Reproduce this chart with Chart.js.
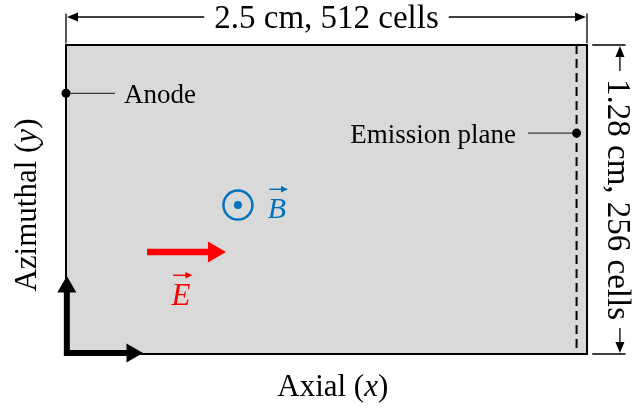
<!DOCTYPE html>
<html>
<head>
<meta charset="utf-8">
<script src="https://cdn.jsdelivr.net/npm/chart.js@4/dist/chart.umd.min.js"></script>
<style>
  html, body { margin: 0; padding: 0; background: #ffffff; }
  #wrap { width: 634px; height: 412px; }
</style>
</head>
<body>
<div id="wrap"><canvas id="c" width="634" height="412"></canvas></div>
<script>
// ---- data (simulation domain, in cm) ----
const axialExtentCm = [0, 2.5];
const azimuthalExtentCm = [0, 1.28];
const cellCounts = [512, 256];
const emissionPlaneX = [2.45];
const markerLabels = ['Anode', 'Emission plane'];
const markerY = [1.08, 0.915];
const dimensionLabels = ['2.5 cm, 512 cells', '1.28 cm, 256 cells'];
const axisTitles = ['Axial', 'Azimuthal'];
const axisSymbols = ['x', 'y'];
const fieldSymbols = ['E', 'B'];

const X0 = axialExtentCm[0], X1 = axialExtentCm[1];
const Y0 = azimuthalExtentCm[0], Y1 = azimuthalExtentCm[1];

const SERIF = '"Liberation Serif", "DejaVu Serif", serif';
const RED = '#ff0000';
const BLUE = '#0072bd';

// annotation placement (data units)
const place = {
  topDimY: 1.396, topExtTop: 1.41, extNear: 1.287,
  rightDimX: 2.658, rightExtFrom: 2.525, rightExtTo: 2.685,
  anodeLeaderEnd: 0.235, anodeText: 0.278,
  emisLeaderStart: 2.217, emisText: 2.159,
  eShaft: [0.389, 0.71], eY: 0.4225, eLabel: [0.552, 0.203],
  bCenter: [0.825, 0.617], bLabel: [1.0125, 0.563],
  corner: [0.004, 0.004], vTip: 0.2775, hTip: 0.3167,
  axialLabel: [1.28, -0.174], azimLabel: [-0.144, 0.617]
};

function arrowHead(ctx, x, y, ang, len, half) {
  ctx.save();
  ctx.translate(x, y); ctx.rotate(ang);
  ctx.beginPath();
  ctx.moveTo(0, 0); ctx.lineTo(-len, -half); ctx.lineTo(-len, half);
  ctx.closePath(); ctx.fill();
  ctx.restore();
}
function partsWidth(ctx, parts) {
  let w = 0;
  parts.forEach(p => { ctx.font = p.f; w += ctx.measureText(p.t).width; });
  return w;
}
function drawParts(ctx, parts, x, y, align) {
  const w = partsWidth(ctx, parts);
  let sx = align === 'center' ? x - w / 2 : (align === 'right' ? x - w : x);
  ctx.textAlign = 'left';
  parts.forEach(p => { ctx.font = p.f; ctx.fillText(p.t, sx, y); sx += ctx.measureText(p.t).width; });
}
function vecLetter(ctx, letter, cx, baseline, size, color) {
  ctx.fillStyle = color; ctx.strokeStyle = color;
  ctx.font = 'italic ' + size + 'px ' + SERIF;
  ctx.textAlign = 'center'; ctx.textBaseline = 'alphabetic';
  ctx.fillText(letter, cx, baseline);
  const w = ctx.measureText(letter).width;
  const ay = baseline - size * 0.96;
  const ax0 = cx - w * 0.42, ax1 = cx + w * 0.6;
  ctx.lineWidth = 1.4;
  ctx.beginPath(); ctx.moveTo(ax0, ay); ctx.lineTo(ax1 - 3, ay); ctx.stroke();
  arrowHead(ctx, ax1, ay, 0, 7, 3.2);
}

const annotate = {
  id: 'annotate',
  afterDatasetsDraw(chart) {
    const { ctx, scales: { x, y } } = chart;
    const PX = v => x.getPixelForValue(v), PY = v => y.getPixelForValue(v);
    ctx.save();
    ctx.fillStyle = '#000'; ctx.strokeStyle = '#000';
    ctx.lineWidth = 1.3;
    ctx.textBaseline = 'alphabetic';

    // top dimension
    const ty = PY(place.topDimY);
    const tl = PX(X0), tr = PX(X1), tc = (tl + tr) / 2;
    ctx.font = '33px ' + SERIF;
    const tw = ctx.measureText(dimensionLabels[0]).width;
    ctx.beginPath();
    ctx.moveTo(tl + 4, ty); ctx.lineTo(tc - tw / 2 - 10, ty);
    ctx.moveTo(tc + tw / 2 + 10, ty); ctx.lineTo(tr - 4, ty);
    ctx.moveTo(tl, PY(place.topExtTop)); ctx.lineTo(tl, PY(place.extNear));
    ctx.moveTo(tr, PY(place.topExtTop)); ctx.lineTo(tr, PY(place.extNear));
    ctx.stroke();
    arrowHead(ctx, tl + 1, ty, Math.PI, 11, 4.5);
    arrowHead(ctx, tr - 1, ty, 0, 11, 4.5);
    ctx.textAlign = 'center';
    ctx.fillText(dimensionLabels[0], tc, ty + 11);

    // right dimension
    const rx = PX(place.rightDimX);
    const rt = PY(Y1), rb = PY(Y0), rc = (rt + rb) / 2;
    const rw = ctx.measureText(dimensionLabels[1]).width;
    ctx.beginPath();
    ctx.moveTo(rx, rt + 4); ctx.lineTo(rx, rc - rw / 2 - 8);
    ctx.moveTo(rx, rc + rw / 2 + 8); ctx.lineTo(rx, rb - 4);
    ctx.moveTo(PX(place.rightExtFrom), rt); ctx.lineTo(PX(place.rightExtTo), rt);
    ctx.moveTo(PX(place.rightExtFrom), rb); ctx.lineTo(PX(place.rightExtTo), rb);
    ctx.stroke();
    arrowHead(ctx, rx, rt + 1, -Math.PI / 2, 11, 4.5);
    arrowHead(ctx, rx, rb - 1, Math.PI / 2, 11, 4.5);
    ctx.save();
    ctx.translate(rx, rc); ctx.rotate(Math.PI / 2);
    ctx.textAlign = 'center';
    ctx.fillText(dimensionLabels[1], 0, 12);
    ctx.restore();

    // marker labels
    ctx.font = '27px ' + SERIF;
    ctx.textAlign = 'left';
    ctx.fillText(markerLabels[0], PX(place.anodeText), PY(markerY[0]) + 10);
    ctx.textAlign = 'right';
    ctx.fillText(markerLabels[1], PX(place.emisText), PY(markerY[1]) + 10);

    // axis titles
    const reg = '31px ' + SERIF, ita = 'italic 31px ' + SERIF;
    drawParts(ctx, [{ t: axisTitles[0] + ' (', f: reg }, { t: axisSymbols[0], f: ita }, { t: ')', f: reg }],
      PX(place.axialLabel[0]), PY(place.axialLabel[1]), 'center');
    ctx.save();
    ctx.translate(PX(place.azimLabel[0]), PY(place.azimLabel[1]));
    ctx.rotate(-Math.PI / 2);
    drawParts(ctx, [{ t: axisTitles[1] + ' (', f: reg }, { t: axisSymbols[1], f: ita }, { t: ')', f: reg }], 0, 0, 'center');
    ctx.restore();

    // field symbols
    vecLetter(ctx, fieldSymbols[0], PX(place.eLabel[0]), PY(place.eLabel[1]), 31, RED);
    vecLetter(ctx, fieldSymbols[1], PX(place.bLabel[0]), PY(place.bLabel[1]), 30, BLUE);
    ctx.restore();
  }
};

const line = (data, extra) => Object.assign({
  data, showLine: true, pointRadius: 0, borderWidth: 2, borderColor: '#000',
  backgroundColor: '#000', fill: false, clip: false, tension: 0
}, extra);

const datasets = [
  // domain fill
  line([{ x: X0, y: Y1 }, { x: X1, y: Y1 }], { fill: 'origin', backgroundColor: '#d9d9d9', borderWidth: 0, order: 10 }),
  // domain border
  line([{ x: X0, y: Y0 }, { x: X1, y: Y0 }, { x: X1, y: Y1 }, { x: X0, y: Y1 }, { x: X0, y: Y0 }],
    { borderWidth: 2, borderJoinStyle: 'miter', order: 8 }),
  // emission plane
  line([{ x: emissionPlaneX[0], y: Y1 }, { x: emissionPlaneX[0], y: Y0 }],
    { borderWidth: 2, borderDash: [9, 5], order: 7 }),
  // anode leader + dot
  line([{ x: X0, y: markerY[0] }, { x: place.anodeLeaderEnd, y: markerY[0] }],
    { borderWidth: 1.2, borderColor: '#3a3a3a', pointRadius: [4.5, 0], pointBorderWidth: 0, pointBackgroundColor: '#000', order: 5 }),
  // emission plane leader + dot
  line([{ x: place.emisLeaderStart, y: markerY[1] }, { x: emissionPlaneX[0], y: markerY[1] }],
    { borderWidth: 1.2, borderColor: '#3a3a3a', pointRadius: [0, 4.5], pointBorderWidth: 0, pointBackgroundColor: '#000', order: 5 }),
  // E field arrow
  line([{ x: place.eShaft[0], y: place.eY }, { x: place.eShaft[1], y: place.eY }],
    { borderWidth: 6.5, borderColor: RED, borderCapStyle: 'butt', pointStyle: 'triangle', pointRotation: 90,
      pointRadius: [0, 12], pointBorderWidth: 0, pointBackgroundColor: RED, order: 4 }),
  // B field (out of page)
  { data: [{ x: place.bCenter[0], y: place.bCenter[1] }], showLine: false, pointRadius: 14.5, pointBorderWidth: 2.5,
    pointBorderColor: BLUE, pointBackgroundColor: 'rgba(0,0,0,0)', clip: false, order: 4 },
  { data: [{ x: place.bCenter[0], y: place.bCenter[1] }], showLine: false, pointRadius: 4, pointBorderWidth: 0,
    pointBackgroundColor: BLUE, clip: false, order: 3 },
  // coordinate axes arrows
  line([{ x: place.corner[0], y: place.vTip }, { x: place.corner[0], y: place.corner[1] }, { x: place.hTip, y: place.corner[1] }],
    { borderWidth: 6, borderJoinStyle: 'miter', borderCapStyle: 'butt', pointStyle: 'triangle',
      pointRotation: [0, 0, 90], pointRadius: [11, 0, 11], pointBorderWidth: 0, pointBackgroundColor: '#000', order: 2 })
];

new Chart(document.getElementById('c'), {
  type: 'scatter',
  data: { datasets },
  options: {
    responsive: false, animation: false, devicePixelRatio: 1,
    events: [],
    layout: { padding: { left: 66, right: 47, top: 45, bottom: 58 } },
    scales: {
      x: { type: 'linear', min: X0, max: X1, display: false },
      y: { type: 'linear', min: Y0, max: Y1, display: false }
    },
    plugins: { legend: { display: false }, tooltip: { enabled: false } }
  },
  plugins: [annotate]
});
</script>
</body>
</html>
